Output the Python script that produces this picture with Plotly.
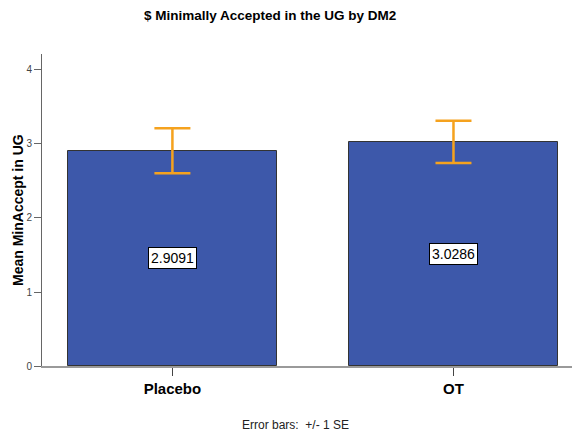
import plotly.graph_objects as go

# Group means of the minimum accepted offer, with standard errors
groups = ["Placebo", "OT"]
means = [2.9091, 3.0286]
std_errors = [0.303, 0.285]
y_ticks = [0, 1, 2, 3, 4]

font_family = "Liberation Sans, Arial, sans-serif"

fig = go.Figure()
fig.add_trace(go.Bar(
    x=groups,
    y=means,
    width=0.744,
    marker=dict(color="#3D58AA", line=dict(color="#333333", width=1)),
    error_y=dict(type="data", array=std_errors, visible=True,
                 color="#F5A21E", thickness=2.5, width=18),
    hoverinfo="skip",
))

# Boxed value labels at mid-height of each bar
for g, m in zip(groups, means):
    fig.add_annotation(
        x=g, y=m / 2, text=f"{m:.4f}", showarrow=False,
        font=dict(family=font_family, size=14, color="black"),
        bgcolor="white", bordercolor="black", borderwidth=1, borderpad=2,
    )

fig.add_annotation(
    xref="paper", yref="paper", x=(270 - 42) / 530, y=1 + (54 - 15) / 312,
    text="<b>$ Minimally Accepted in the UG by DM2</b>", showarrow=False,
    font=dict(family=font_family, size=13.5, color="black"),
    xanchor="center", yanchor="middle",
)
fig.add_annotation(
    xref="paper", yref="paper", x=(295 - 42) / 530, y=-(425 - 366) / 312,
    text="Error bars:  +/- 1 SE", showarrow=False,
    font=dict(family=font_family, size=12, color="#222222"),
    xanchor="center", yanchor="middle",
)
# Y-axis title
fig.add_annotation(
    xref="paper", yref="paper", x=-(42 - 18) / 530, y=(366 - 210) / 312,
    text="<b>Mean MinAccept in UG</b>", showarrow=False, textangle=-90,
    font=dict(family=font_family, size=14, color="black"),
    xanchor="center", yanchor="middle",
)

fig.update_layout(
    width=572, height=434,
    margin=dict(l=42, r=0, t=54, b=68),
    paper_bgcolor="white", plot_bgcolor="white",
    showlegend=False,
    font=dict(family=font_family),
    bargap=0,
    xaxis=dict(
        range=[-0.464, 1.4217],
        showline=True, linecolor="#9A9A9A", linewidth=2,
        ticks="outside", ticklen=8, tickcolor="#444444", tickwidth=1,
        tickfont=dict(family=font_family, size=15, color="black"),
        tickprefix="<b>", ticksuffix="</b>",
        showgrid=False, zeroline=False, fixedrange=True,
    ),
    yaxis=dict(
        range=[0, 4.216],
        tickvals=y_ticks,
        showline=True, linecolor="#666666", linewidth=1,
        ticks="outside", ticklen=7, tickcolor="#666666", tickwidth=1,
        tickfont=dict(family=font_family, size=10, color="#444444"),
        showgrid=False, zeroline=False, fixedrange=True,
    ),
)

fig.write_html("out.html")
